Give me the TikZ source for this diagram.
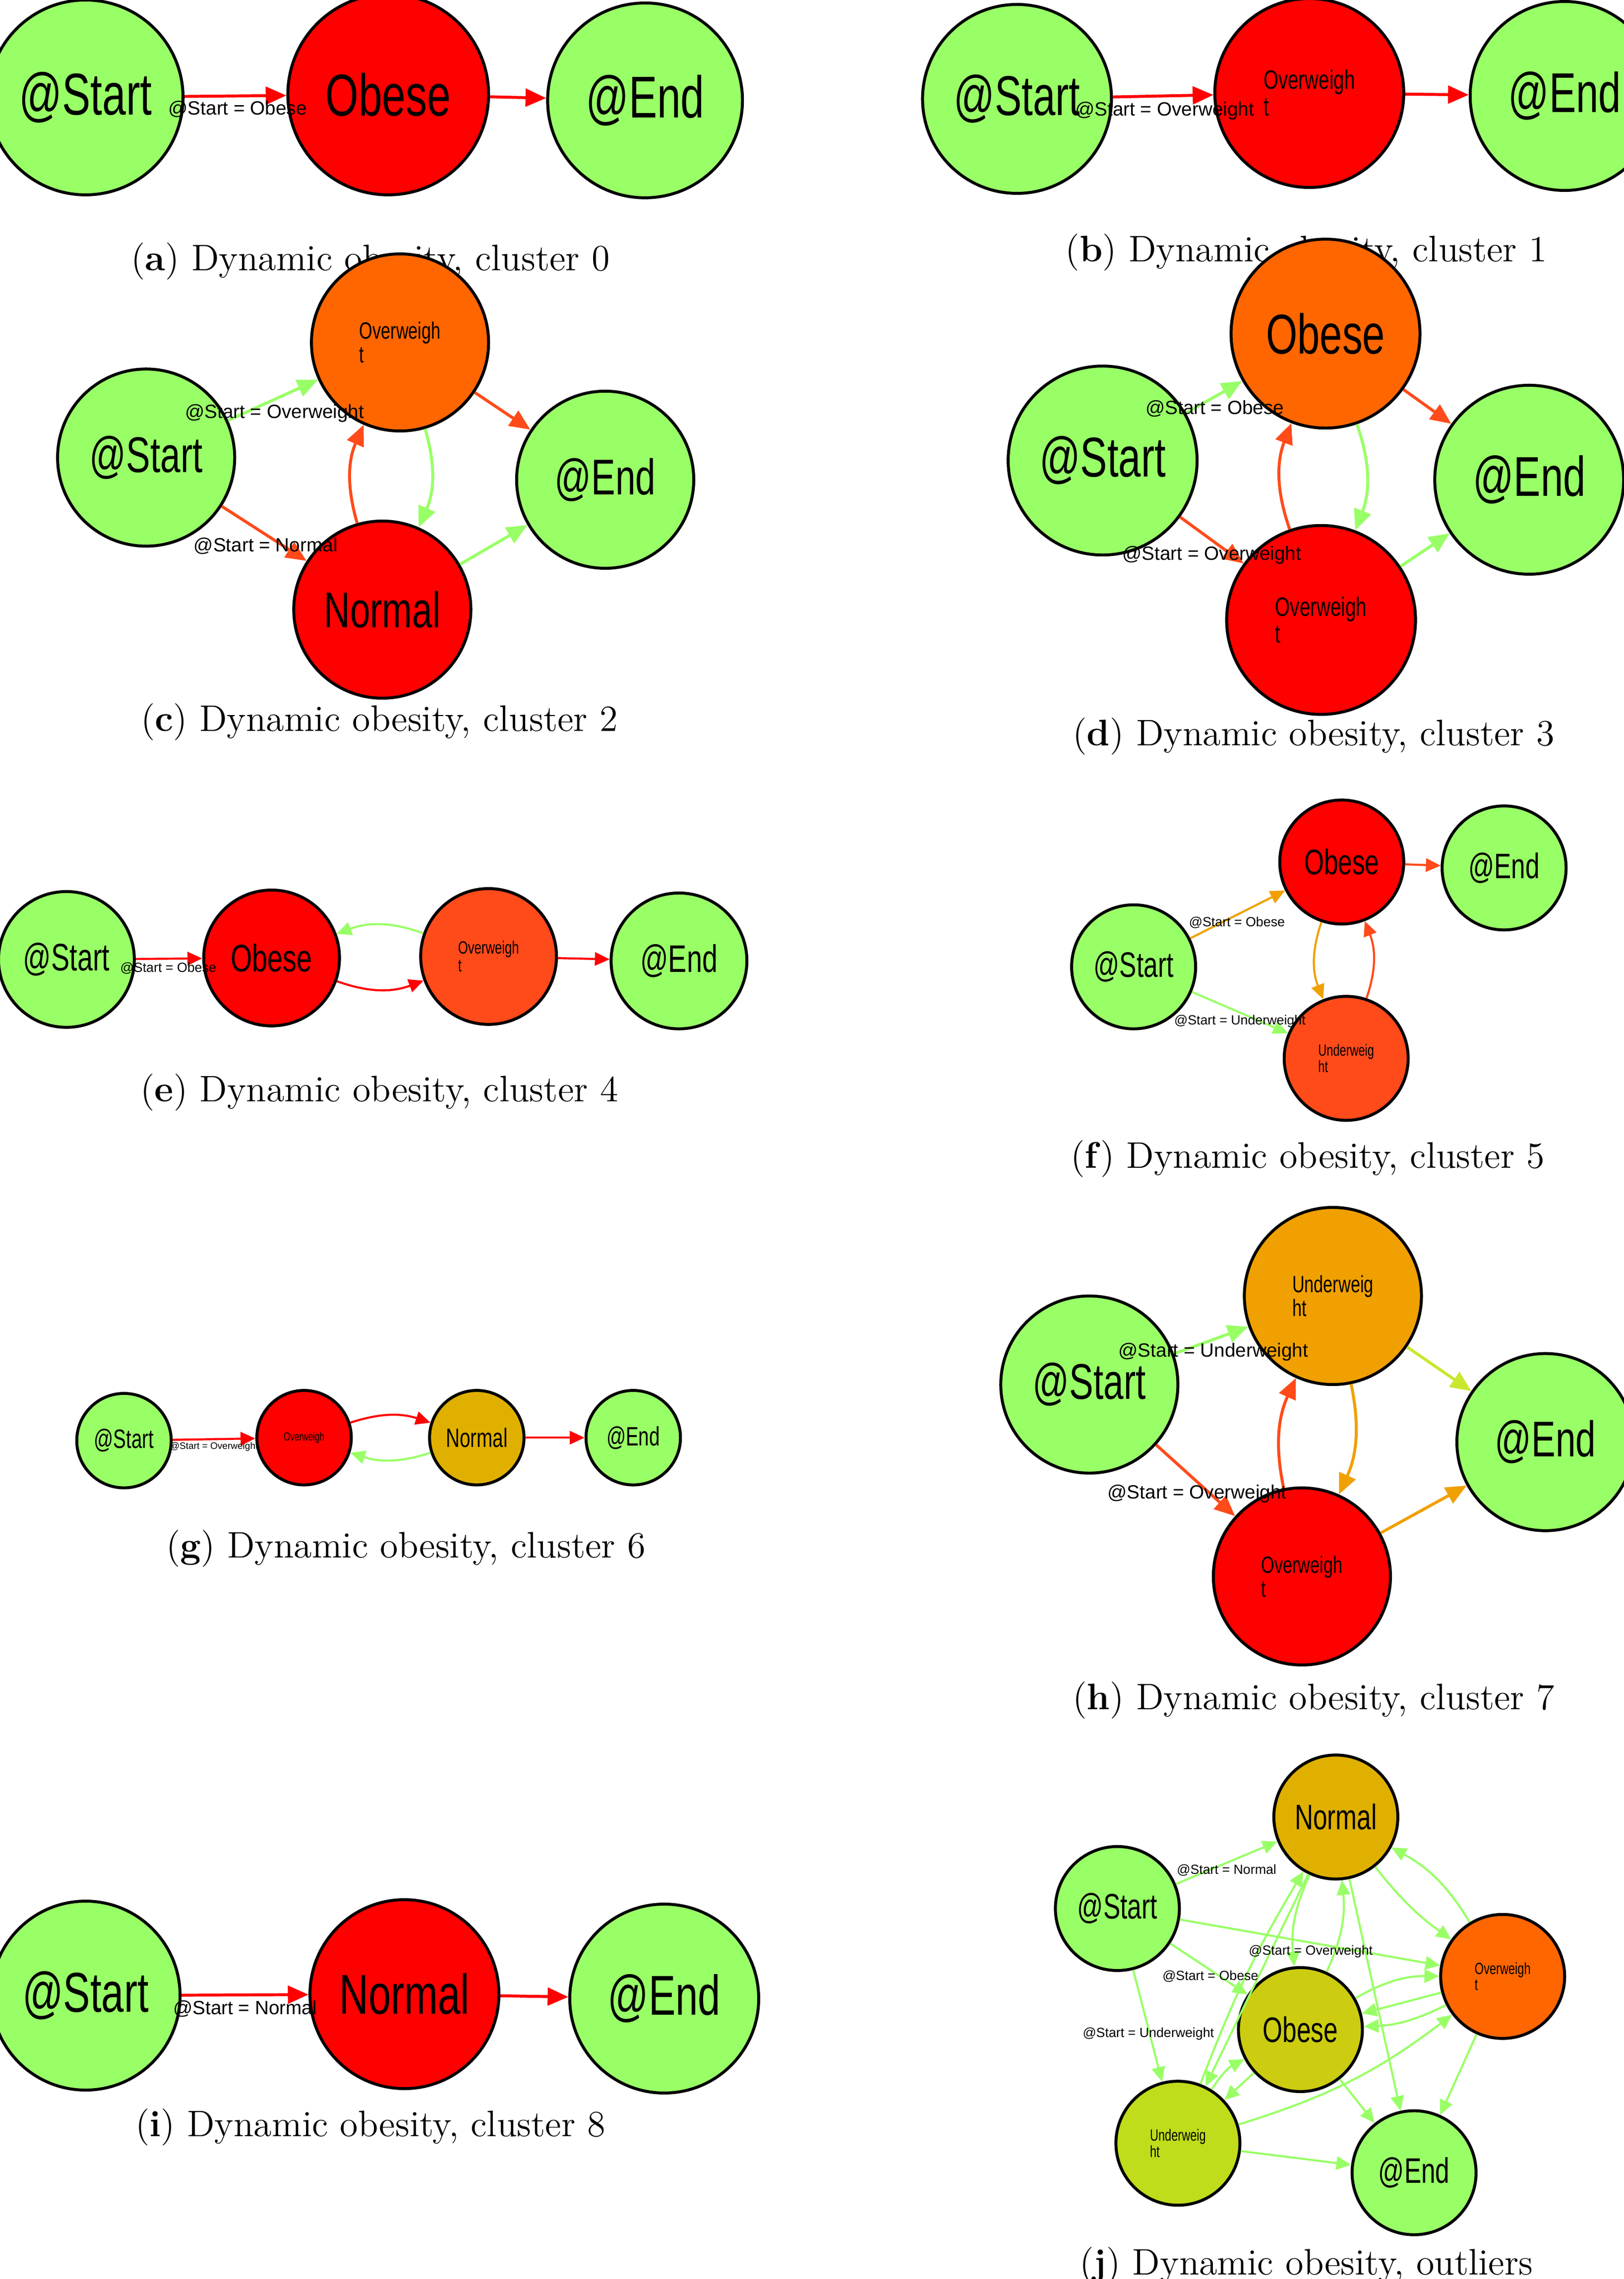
\documentclass[tikz,border=0pt]{standalone}
\usepackage{fontspec}
\usetikzlibrary{arrows.meta}
\newfontfamily\cond[FakeStretch=0.72]{Liberation Sans}
\newfontfamily\lab{Liberation Sans}
\definecolor{G}{HTML}{99FF66}
\definecolor{R}{HTML}{FF0000}
\definecolor{O}{HTML}{FF6600}
\definecolor{OR}{HTML}{FF4A1A}
\definecolor{Y}{HTML}{E0B000}
\definecolor{YO}{HTML}{F0A000}
\definecolor{OL}{HTML}{CCCC11}
\definecolor{UL}{HTML}{C0DC1A}
\definecolor{YG}{HTML}{C8E830}
\begin{document}
\begin{tikzpicture}[x=0.5pt,y=-0.5pt,
  nd/.style n args={3}{circle,draw,line width=1pt,fill=#2,minimum size=#1pt,inner sep=0pt,font=\cond\fontsize{#3}{#3}\selectfont},
  e/.style={line width=1pt,draw=#1,-{Triangle[length=7pt,width=6pt]}},
  es/.style={line width=0.7pt,draw=#1,-{Triangle[length=5pt,width=4.5pt]}},
  lb/.style={font=\lab\fontsize{6.5}{7}\selectfont,inner sep=0.5pt},
  lbs/.style={font=\lab\fontsize{4.5}{5}\selectfont,inner sep=0.5pt},
  lbt/.style={font=\lab\fontsize{3.2}{4}\selectfont,inner sep=0.5pt},
  capt/.style={font=\fontsize{12.5}{14}\selectfont}]
\useasboundingbox (0,0) rectangle (1100,1544);
% (a)
\node[nd={66}{G}{20}] (aS) at (58,66) {@Start};
\node[nd={68}{R}{20}] (aO) at (263,64) {Obese};
\node[nd={66}{G}{20}] (aE) at (437,68) {@End};
\draw[e=R] (aS) -- (aO);
\draw[e=R] (aO) -- (aE);
\node[lb] (la) at (161,74) {@Start = Obese};
\node[capt] (ca) at (251,177) {(\textbf{a}) Dynamic obesity, cluster 0};
% (b)
\node[nd={64}{G}{19}] (bS) at (689,67) {@Start};
\node[nd={64}{R}{9},align=left] (bO) at (887,63) {Overweigh\\t};
\node[nd={64}{G}{19}] (bE) at (1060,65) {@End};
\draw[e=R] (bS) -- (bO);
\draw[e=R] (bO) -- (bE);
\node[lb] (lb1) at (789,75) {@Start = Overweight};
\node[capt] (cb) at (885,171) {(\textbf{b}) Dynamic obesity, cluster 1};
% (c)
\node[nd={60}{G}{17}] (cS) at (99,310) {@Start};
\node[nd={60}{O}{8},align=left] (cO) at (271,232) {Overweigh\\t};
\node[nd={60}{G}{17}] (cE) at (410,325) {@End};
\node[nd={60}{R}{17}] (cN) at (259,413) {Normal};
\draw[e=G] (cS) -- (cO);
\draw[e=OR] (cS) -- (cN);
\draw[e=OR] (cO) -- (cE);
\draw[e=OR] (cN) to[bend left=20] (cO);
\draw[e=G] (cO) to[bend left=20] (cN);
\draw[e=G] (cN) -- (cE);
\node[lb] (lc1) at (186,280) {@Start = Overweight};
\node[lb] (lc2) at (180,370) {@Start = Normal};
\node[capt] (cc) at (257,489) {(\textbf{c}) Dynamic obesity, cluster 2};
% (d)
\node[nd={64}{G}{19}] (dS) at (747,312) {@Start};
\node[nd={64}{O}{19}] (dO) at (898,226) {Obese};
\node[nd={64}{G}{19}] (dE) at (1036,325) {@End};
\node[nd={64}{R}{9},align=left] (dW) at (895,420) {Overweigh\\t};
\draw[e=G] (dS) -- (dO);
\draw[e=OR] (dS) -- (dW);
\draw[e=OR] (dO) -- (dE);
\draw[e=OR] (dW) to[bend left=20] (dO);
\draw[e=G] (dO) to[bend left=20] (dW);
\draw[e=G] (dW) -- (dE);
\node[lb] (ld1) at (823,277) {@Start = Obese};
\node[lb] (ld2) at (821,376) {@Start = Overweight};
\node[capt] (cd) at (890,499) {(\textbf{d}) Dynamic obesity, cluster 3};
% (e)
\node[nd={46}{G}{13}] (eS) at (45,650) {@Start};
\node[nd={46}{R}{13}] (eO) at (184,649) {Obese};
\node[nd={46}{OR}{6},align=left] (eW) at (331,648) {Overweigh\\t};
\node[nd={46}{G}{13}] (eE) at (460,651) {@End};
\draw[es=R] (eS) -- (eO);
\draw[es=R] (eO) to[bend right=20] (eW);
\draw[es=G] (eW) to[bend right=20] (eO);
\draw[es=R] (eW) -- (eE);
\node[lbs] (le) at (114,656) {@Start = Obese};
\node[capt] (ce) at (257,740) {(\textbf{e}) Dynamic obesity, cluster 4};
% (f)
\node[nd={42}{G}{12}] (fS) at (768,655) {@Start};
\node[nd={42}{R}{12}] (fO) at (909,584) {Obese};
\node[nd={42}{G}{12}] (fE) at (1019,588) {@End};
\node[nd={42}{OR}{5.5},align=left] (fU) at (912,717) {Underweig\\ht};
\draw[es=YO] (fS) -- (fO);
\draw[es=G] (fS) -- (fU);
\draw[es=OR] (fO) -- (fE);
\draw[es=YO] (fO) to[bend right=20] (fU);
\draw[es=OR] (fU) to[bend right=20] (fO);
\node[lbs] (lf1) at (838,625) {@Start = Obese};
\node[lbs] (lf2) at (840,692) {@Start = Underweight};
\node[capt] (cf) at (886,785) {(\textbf{f}) Dynamic obesity, cluster 5};
% (g)
\node[nd={32}{G}{9}] (gS) at (84,976) {@Start};
\node[nd={32}{R}{4}] (gW) at (206,974) {Overweigh};
\node[nd={32}{Y}{9}] (gN) at (323,974) {Normal};
\node[nd={32}{G}{9}] (gE) at (429,974) {@End};
\draw[es=R] (gS) -- (gW);
\draw[es=R] (gW) to[bend left=18] (gN);
\draw[es=G] (gN) to[bend left=18] (gW);
\draw[es=R] (gN) -- (gE);
\node[lbt] (lg) at (145,980) {@Start = Overweight};
\node[capt] (cg) at (275,1049) {(\textbf{g}) Dynamic obesity, cluster 6};
% (h)
\node[nd={60}{G}{17}] (hS) at (738,938) {@Start};
\node[nd={60}{YO}{8},align=left] (hU) at (903,878) {Underweig\\ht};
\node[nd={60}{G}{17}] (hE) at (1047,977) {@End};
\node[nd={60}{R}{8},align=left] (hW) at (882,1068) {Overweigh\\t};
\draw[e=G] (hS) -- (hU);
\draw[e=OR] (hS) -- (hW);
\draw[e=YG] (hU) -- (hE);
\draw[e=YO] (hW) -- (hE);
\draw[e=OR] (hW) to[bend left=18] (hU);
\draw[e=YO] (hU) to[bend left=18] (hW);
\node[lb] (lh1) at (822,916) {@Start = Underweight};
\node[lb] (lh2) at (811,1012) {@Start = Overweight};
\node[capt] (ch) at (890,1152) {(\textbf{h}) Dynamic obesity, cluster 7};
% (i)
\node[nd={64}{G}{19}] (iS) at (58,1352) {@Start};
\node[nd={64}{R}{19}] (iN) at (274,1351) {Normal};
\node[nd={64}{G}{19}] (iE) at (450,1354) {@End};
\draw[e=R] (iS) -- (iN);
\draw[e=R] (iN) -- (iE);
\node[lb] (li) at (166,1361) {@Start = Normal};
\node[capt] (ci) at (251,1441) {(\textbf{i}) Dynamic obesity, cluster 8};
% (j)
\node[nd={42}{Y}{12}] (jN) at (905,1231) {Normal};
\node[nd={42}{G}{12}] (jS) at (757,1293) {@Start};
\node[nd={42}{O}{5.5},align=left] (jW) at (1018,1339) {Overweigh\\t};
\node[nd={42}{OL}{12}] (jO) at (881,1375) {Obese};
\node[nd={42}{UL}{5.5},align=left] (jU) at (798,1452) {Underweig\\ht};
\node[nd={42}{G}{12}] (jE) at (958,1472) {@End};
\begin{scope}[every path/.style={es=G}]
\draw (jS) -- (jN);
\draw (jS) -- (jW);
\draw (jS) -- (jO);
\draw (jS) -- (jU);
\draw (jN) to[bend right=15] (jO);
\draw (jO) to[bend right=15] (jN);
\draw (jN) -- (jE);
\draw (jN) to[bend right=8] (jW);
\draw (jW) to[bend right=15] (jN);
\draw (jU) to[bend left=5] (jN);
\draw (jN) -- (jU);
\draw (jO) to[bend left=15] (jW);
\draw (jW) -- (jO);
\draw (jW) to[bend right=-12] (jO);
\draw (jU) to[bend right=10] (jW);
\draw (jO) -- (jU);
\draw (jU) to[bend left=15] (jO);
\draw (jO) -- (jE);
\draw (jW) -- (jE);
\draw (jU) -- (jE);
\end{scope}
\node[lbs] (lj1) at (831,1267) {@Start = Normal};
\node[lbs] (lj2) at (888,1322) {@Start = Overweight};
\node[lbs] (lj3) at (820,1339) {@Start = Obese};
\node[lbs] (lj4) at (778,1378) {@Start = Underweight};
\node[capt] (cj) at (885,1535) {(\textbf{j}) Dynamic obesity, outliers};
\end{tikzpicture}
\end{document}
